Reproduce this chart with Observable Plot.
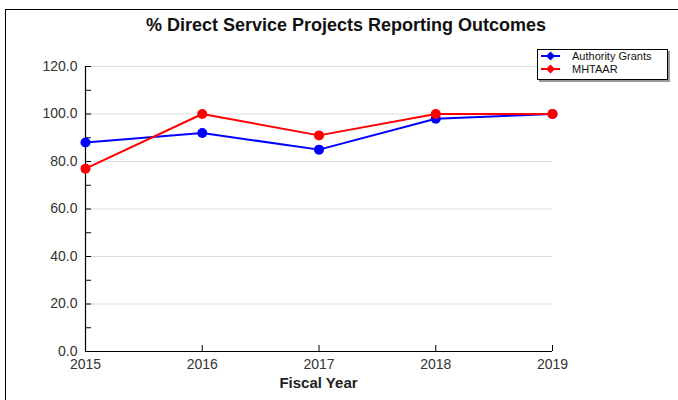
<!DOCTYPE html>
<html>
<head>
<meta charset="utf-8">
<script src="https://cdn.jsdelivr.net/npm/d3@7"></script>
<script src="https://cdn.jsdelivr.net/npm/@observablehq/plot@0.6"></script>
<style>
  html, body { margin: 0; padding: 0; background: #fff; overflow: hidden; }
  body { width: 678px; height: 400px; position: relative; font-family: "Liberation Sans", Arial, sans-serif; }
  #frame { position: absolute; left: 5px; top: 9px; width: 700px; height: 420px; border: 1px solid #000; box-sizing: border-box; }
  #chart { position: absolute; left: 0; top: 0; }
  #title { position: absolute; left: 0; width: 692px; top: 15px; text-align: center; font-weight: bold; font-size: 18px; color: #111; }
  #xlabel { position: absolute; left: 85px; width: 467px; top: 374px; text-align: center; font-weight: bold; font-size: 15px; color: #222; }
  #legend { position: absolute; left: 537px; top: 49px; width: 131px; height: 31px; border: 1px solid #000; box-sizing: border-box; background: #fff; box-shadow: 2px 2px 0 #999; }
</style>
</head>
<body>
<div id="frame"></div>
<div id="chart"></div>
<div id="title">% Direct Service Projects Reporting Outcomes</div>
<div id="xlabel">Fiscal Year</div>
<div id="legend"></div>
<script>
const years = [2015, 2016, 2017, 2018, 2019];
const authorityGrants = [88, 92, 85, 98, 100];
const mhtaar = [77, 100, 91, 100, 100];
const seriesNames = ["Authority Grants", "MHTAAR"];
const seriesColors = ["#0000ff", "#ff0000"];
const yTicks = [0, 20, 40, 60, 80, 100, 120];
const yMinorTicks = [0, 10, 20, 30, 40, 50, 60, 70, 80, 90, 100, 110, 120];
const xTicks = [2016, 2017, 2018, 2019];

const data = [];
years.forEach((y, i) => {
  data.push({year: y, value: authorityGrants[i], series: seriesNames[0]});
});
years.forEach((y, i) => {
  data.push({year: y, value: mhtaar[i], series: seriesNames[1]});
});

const W = 678, H = 400;
const mL = 85, mR = 126, mT = 66, mB = 49;
const plotW = W - mL - mR, plotH = H - mT - mB;

const chart = Plot.plot({
  width: W,
  height: H,
  marginLeft: mL,
  marginRight: mR,
  marginTop: mT,
  marginBottom: mB,
  style: {fontFamily: "'Liberation Sans', Arial, sans-serif", fontSize: "14px", background: "transparent", overflow: "visible"},
  x: {domain: [2015, 2019], label: null},
  y: {domain: [0, 120], label: null},
  color: {domain: seriesNames, range: seriesColors},
  marks: [
    Plot.ruleY(yTicks.filter(d => d > 0), {y: d => d, stroke: "#dddddd", strokeWidth: 1}),
    Plot.axisY({ticks: yTicks, tickSize: 0, tickPadding: 8, tickFormat: d3.format(".1f"), fill: "#333", fontSize: 14, label: null}),
    Plot.axisX({ticks: years, tickSize: 0, tickPadding: 8, tickFormat: d3.format("d"), fill: "#333", fontSize: 14, label: null}),
    Plot.tickY(yMinorTicks, {y: d => d, stroke: "#000", insetRight: plotW - 6}),
    Plot.tickX(xTicks, {x: d => d, stroke: "#000", insetTop: plotH - 6}),
    Plot.ruleX([2015], {stroke: "#000", strokeWidth: 1.2}),
    Plot.ruleY([0], {stroke: "#000", strokeWidth: 1.2}),
    Plot.line(data, {x: "year", y: "value", z: "series", stroke: "series", strokeWidth: 2}),
    Plot.dot(data, {x: "year", y: "value", fill: "series", r: 5, stroke: null})
  ]
});
document.getElementById("chart").appendChild(chart);

// Legend
const lg = d3.select("#legend").append("svg").attr("width", 129).attr("height", 29);
seriesNames.forEach((name, i) => {
  const cy = 6 + i * 13;
  lg.append("line").attr("x1", 3).attr("x2", 22).attr("y1", cy).attr("y2", cy)
    .attr("stroke", seriesColors[i]).attr("stroke-width", 2);
  lg.append("path").attr("d", "M0,-4.5L4.5,0L0,4.5L-4.5,0Z").attr("transform", `translate(12.5,${cy})`)
    .attr("fill", seriesColors[i]);
  lg.append("text").attr("x", 34).attr("y", cy + 4).text(name)
    .attr("font-size", 11).attr("fill", "#111")
    .attr("font-family", "'Liberation Sans', Arial, sans-serif");
});
</script>
</body>
</html>
